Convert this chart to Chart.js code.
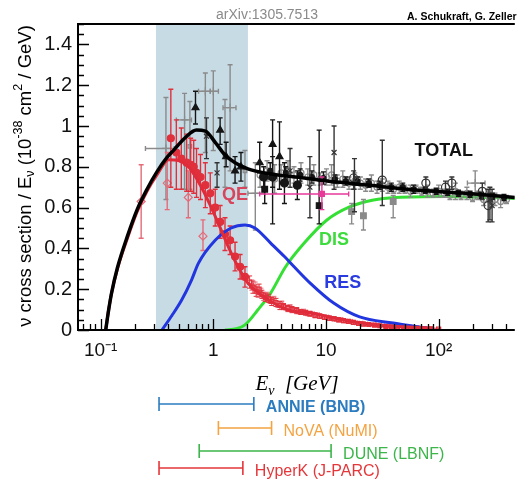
<!DOCTYPE html>
<html><head><meta charset="utf-8">
<script src="https://cdn.jsdelivr.net/npm/chart.js@4.4.0/dist/chart.umd.min.js"></script>
<style>html,body{margin:0;padding:0;background:#fff;}canvas{display:block;}</style>
</head><body>
<canvas id="c" width="520" height="479"></canvas>
<script>
// ---------- axis ticks ----------
const xTickValues = [0.1, 1, 10, 100];
const xTickLabels = ['10\u207B\u00B9', '1', '10', '10\u00B2'];
const yTickValues = [0, 0.2, 0.4, 0.6, 0.8, 1, 1.2, 1.4];
const yTickLabels = ['0', '0.2', '0.4', '0.6', '0.8', '1', '1.2', '1.4'];
const highlightRange = [0.31, 2.03];

// ---------- model curves (E in GeV, sigma/E) ----------
const totalE = [0.111,0.118,0.125,0.141,0.173,0.211,0.258,0.316,0.387,0.446,0.557,0.71,0.851,1.04,1.27,1.56,2.03,2.86,6.41,12.5,24.3,62.8,173,474];
const totalV = [0,0.10,0.18,0.305,0.46,0.59,0.69,0.775,0.845,0.882,0.94,0.98,0.975,0.92,0.858,0.82,0.79,0.77,0.745,0.725,0.71,0.686,0.67,0.65];
const qeE = [0.111,0.118,0.125,0.141,0.173,0.211,0.258,0.316,0.403,0.493,0.604,0.785,0.96,1.175,1.354,1.66,2.03,2.86,4.54,7.23,14.4,28,88.5];
const qeV = [0,0.10,0.18,0.30,0.45,0.58,0.68,0.76,0.835,0.83,0.80,0.70,0.60,0.49,0.41,0.31,0.23,0.16,0.10,0.083,0.049,0.025,0.01];
const resE = [0.35,0.428,0.524,0.641,0.739,1.04,1.44,1.91,2.34,3.23,4.28,5.24,7.24,11.7,19.9,39.5,66.8,88.5];
const resV = [0,0.07,0.147,0.245,0.328,0.44,0.50,0.515,0.50,0.426,0.36,0.309,0.23,0.132,0.064,0.034,0.015,0.005];
const disE = [1.27,1.6,1.91,2.48,3.23,4.37,6.41,10.2,16.2,26.4,42,115,474];
const disV = [0,0.006,0.025,0.098,0.181,0.309,0.426,0.539,0.603,0.637,0.65,0.655,0.645];

// ---------- QE data ----------
const qeFilledE = [0.42,0.47,0.52,0.58,0.63,0.67,0.71,0.77,0.85,0.94,1.04,1.15,1.27,1.41,1.56,1.73,1.91];
const qeFilledV = [0.94,0.87,0.84,0.82,0.81,0.80,0.77,0.75,0.71,0.67,0.60,0.53,0.47,0.44,0.36,0.31,0.26];
const qeFilledLo = [0.70,0.69,0.69,0.68,0.68,0.67,0.65,0.64,0.60,0.57,0.51,0.45,0.39,0.37,0.29,0.25,0.21];
const qeFilledHi = [1.18,1.03,0.99,0.96,0.94,0.93,0.89,0.86,0.82,0.77,0.69,0.61,0.55,0.51,0.43,0.37,0.31];
const qeOpenE = [0.229,0.39,0.60,0.81];
const qeOpenV = [0.63,0.72,0.65,0.46];
const qeOpenLo = [0.45,0.59,0.55,0.39];
const qeOpenHi = [0.81,0.87,0.78,0.54];
const qeDenseE = [2.1,2.25,2.4,2.55,2.7,2.9,3.1,3.3,3.6,3.9,4.2,4.6,5.0,5.5,6.0,6.6,7.2,8.0,8.8,9.7,10.7,11.8,13.0,14.3,15.8,17.5,19.5,21.5,24,27,30,34,38,43,49,56,64,74,86,100];
const qeDenseV = [0.235,0.21,0.19,0.20,0.175,0.16,0.155,0.14,0.135,0.12,0.115,0.105,0.10,0.095,0.088,0.085,0.08,0.072,0.068,0.062,0.058,0.055,0.05,0.046,0.042,0.037,0.032,0.029,0.027,0.024,0.021,0.018,0.016,0.014,0.012,0.010,0.009,0.007,0.006,0.005];
const qeDenseErr = [0.03,0.03,0.025,0.025,0.02,0.02,0.02,0.02,0.02,0.02,0.015,0.015,0.015,0.015,0.012,0.012,0.012,0.012,0.01,0.01,0.01,0.01,0.01,0.01,0.008,0.008,0.008,0.008,0.006,0.006,0.006,0.006,0.005,0.005,0.005,0.004,0.004,0.004,0.004,0.004];
const qeDense2E = [2.2,2.35,2.5,2.65,2.8,3.0,3.2,3.45,3.75,4.05,4.4,4.8,5.25,5.75,6.3,6.9,7.6,8.4,9.2,10.2,11.2,12.4,13.6,15,16.6,18.5,20.5,22.7,25.5,28.5,32,36,40.5,46,52,60,69,80,93];
const qeDense2V = [0.22,0.215,0.18,0.185,0.165,0.17,0.145,0.15,0.125,0.13,0.11,0.112,0.098,0.09,0.092,0.08,0.078,0.075,0.066,0.064,0.057,0.052,0.052,0.044,0.043,0.035,0.034,0.03,0.025,0.025,0.02,0.019,0.015,0.015,0.011,0.011,0.008,0.008,0.005];
const qeDense2Err = [0.025,0.02,0.02,0.02,0.02,0.015,0.015,0.015,0.015,0.012,0.012,0.012,0.01,0.01,0.01,0.01,0.01,0.008,0.008,0.008,0.008,0.008,0.006,0.006,0.006,0.006,0.006,0.005,0.005,0.005,0.004,0.004,0.004,0.004,0.004,0.003,0.003,0.003,0.003];

// ---------- inclusive (total) data ----------
const triE = [0.695,1.15,1.30,1.56,1.76,2.58,3.36,3.87];
const triV = [1.09,0.98,0.85,0.78,0.80,0.82,0.91,0.85];
const triLo = [1.01,0.91,0.80,0.72,0.73,0.77,0.70,0.69];
const triHi = [1.17,1.04,0.92,0.85,0.87,0.92,1.03,1.02];
const circE = [2.8,3.36,4.28,5.57];
const circV = [0.75,0.75,0.72,0.71];
const circLo = [0.70,0.52,0.62,0.64];
const circHi = [0.80,0.85,0.82,0.78];
const sqE = [2.86,8.7];
const sqV = [0.69,0.61];
const sqLo = [0.62,0.52];
const sqHi = [0.76,0.98];
const barE = [0.87,1.08,4.8,7.2,11.8,17.9,285,298];
const barV = [0.95,0.77,0.78,0.70,0.87,0.72,0.64,0.61];
const barLo = [0.84,0.70,0.70,0.55,0.69,0.58,0.54,0.53];
const barHi = [1.04,0.82,0.89,0.85,1.00,0.84,0.70,0.69];
const smallE = [3.2,4.4,5.9,7.5,9.5,12,15,19,24,30,38,48,60,76,95,120,150,190,240,300,380];
const smallV = [0.78,0.77,0.76,0.75,0.745,0.74,0.73,0.73,0.72,0.71,0.70,0.70,0.69,0.685,0.68,0.675,0.67,0.665,0.66,0.655,0.65];
const smallErr = [0.04,0.03,0.03,0.03,0.03,0.02,0.02,0.02,0.02,0.02,0.02,0.02,0.02,0.015,0.015,0.015,0.015,0.015,0.015,0.015,0.015];
const openE = [17.6,31.6,77,115,131,244,275];
const openV = [0.745,0.735,0.72,0.70,0.72,0.68,0.61];
const openLo = [0.69,0.61,0.69,0.67,0.69,0.64,0.53];
const openHi = [0.78,0.93,0.75,0.73,0.75,0.72,0.69];
const grayXE = [0.38,0.556,0.85,1.0,1.41,2.36,211];
const grayXV = [0.89,1.03,1.17,1.17,1.09,0.67,0.72];
const grayXLo = [0.64,0.69,0.87,0.88,0.78,0.49,0.67];
const grayXHi = [1.14,1.16,1.26,1.27,1.30,0.82,0.78];
const grayXMin = [0.25,0.47,0.74,0.94,1.22,2.03,180];
const grayXMax = [0.45,0.64,0.94,1.11,1.59,2.86,258];
const grayBarE = [0.62,1.27,1.91];
const grayBarV = [0.90,0.85,0.78];
const grayBarLo = [0.69,0.70,0.70];
const grayBarHi = [1.12,1.13,0.88];
const grayE = [2.6,3.0,3.5,4.0,4.6,5.2,6.0,6.9,7.8,8.9,10.1,11.2,12.6,14.1,16.0,18.0,20.2,22.5,25.3,28.4,31.6,35.5,39.8,44.7,50.1,56.2,63.1,70.8,79.4,89.1,100,112,126,141,158,178,200,224,251,282,316,355,400];
const grayV = [0.76,0.78,0.74,0.77,0.78,0.76,0.77,0.75,0.76,0.74,0.75,0.76,0.73,0.74,0.72,0.73,0.72,0.71,0.72,0.70,0.71,0.70,0.69,0.70,0.69,0.68,0.69,0.68,0.68,0.67,0.68,0.67,0.66,0.68,0.66,0.67,0.65,0.66,0.64,0.65,0.64,0.63,0.64];
const grayErr = [0.06,0.05,0.07,0.04,0.05,0.04,0.05,0.04,0.05,0.03,0.04,0.05,0.03,0.04,0.03,0.04,0.03,0.03,0.04,0.03,0.03,0.03,0.02,0.03,0.02,0.03,0.02,0.02,0.03,0.02,0.03,0.02,0.02,0.04,0.02,0.03,0.02,0.02,0.03,0.02,0.03,0.03,0.02];
const graySqE = [16.9,21.5,39.5];
const graySqV = [0.58,0.56,0.63];
const graySqLo = [0.52,0.49,0.55];
const graySqHi = [0.62,0.64,0.66];
const pinkE = [9.2];
const pinkV = [0.667];
const pinkLo = [0.59];
const pinkHi = [0.75];
const pinkXMin = [2.58];
const pinkXMax = [15.9];

// ---------- experiment energy ranges ----------
const expNames = ['ANNIE (BNB)', 'NoVA (NuMI)', 'DUNE (LBNF)', 'HyperK (J-PARC)'];
const expMin = [0.33, 1.11, 0.75, 0.33];
const expMax = [2.29, 3.29, 11.1, 1.83];

// ---------- helpers ----------
const pts = (E, V) => E.map((e, i) => ({x: e, y: V[i]}));
const RED = '#e0303c', REDL = '#e56b78', BLK = '#151515', GRY = '#8a8a8a', PINK = '#e8389a';
function curve(E, V, color, w, order) {
  return {data: pts(E, V), showLine: true, borderColor: color, borderWidth: w, pointRadius: 0,
    cubicInterpolationMode: 'monotone', fill: false, order};
}
function marks(E, V, o) {
  return Object.assign({data: pts(E, V), showLine: false, pointRadius: 3.5, borderWidth: 1.2}, o);
}

const datasets = [
  curve(totalE, totalV, '#000', 3.5, 1),
  curve(qeE, qeV, '#e02b3a', 3, 2),
  curve(resE, resV, '#2236e0', 3, 2),
  marks(pinkE, pinkV, {pointStyle: 'rect', backgroundColor: PINK, borderColor: PINK, errColor: PINK, yLo: pinkLo, yHi: pinkHi, xLo: pinkXMin, xHi: pinkXMax, order: 7}),
  marks(qeFilledE, qeFilledV, {pointStyle: 'circle', backgroundColor: RED, borderColor: RED, errColor: RED, yLo: qeFilledLo, yHi: qeFilledHi, order: 8}),
  marks(qeOpenE, qeOpenV, {pointStyle: 'rectRot', pointRadius: 4, backgroundColor: 'rgba(0,0,0,0)', borderColor: REDL, errColor: REDL, yLo: qeOpenLo, yHi: qeOpenHi, order: 9}),
  marks(qeDenseE, qeDenseV, {pointStyle: 'rect', pointRadius: 2.8, backgroundColor: 'rgba(0,0,0,0)', borderColor: RED, errColor: RED, errWidth: 1, err: qeDenseErr, order: 10}),
  marks(qeDense2E, qeDense2V, {pointStyle: 'crossRot', pointRadius: 3, backgroundColor: RED, borderColor: REDL, errColor: REDL, errWidth: 1, err: qeDense2Err, order: 10}),
  marks(triE, triV, {pointStyle: 'triangle', pointRadius: 4, backgroundColor: BLK, borderColor: BLK, errColor: BLK, yLo: triLo, yHi: triHi, order: 11}),
  marks(circE, circV, {pointStyle: 'circle', pointRadius: 4, backgroundColor: BLK, borderColor: BLK, errColor: BLK, yLo: circLo, yHi: circHi, order: 11}),
  marks(sqE, sqV, {pointStyle: 'rect', pointRadius: 4, backgroundColor: BLK, borderColor: BLK, errColor: BLK, yLo: sqLo, yHi: sqHi, order: 11}),
  marks(barE, barV, {pointStyle: 'crossRot', pointRadius: 3.5, backgroundColor: '#333', borderColor: '#333', errColor: '#333', yLo: barLo, yHi: barHi, order: 12}),
  marks(openE, openV, {pointStyle: 'circle', pointRadius: 4, backgroundColor: 'rgba(0,0,0,0)', borderColor: '#333', errColor: '#333', yLo: openLo, yHi: openHi, order: 12}),
  marks(smallE, smallV, {pointStyle: 'circle', pointRadius: 2.5, backgroundColor: BLK, borderColor: BLK, errColor: BLK, err: smallErr, order: 13}),
  marks(grayXE, grayXV, {pointStyle: 'cross', pointRadius: 4, backgroundColor: GRY, borderColor: GRY, errColor: GRY, yLo: grayXLo, yHi: grayXHi, xLo: grayXMin, xHi: grayXMax, order: 14}),
  marks(grayBarE, grayBarV, {pointStyle: 'rect', pointRadius: 2.5, backgroundColor: 'rgba(0,0,0,0)', borderColor: GRY, errColor: GRY, yLo: grayBarLo, yHi: grayBarHi, order: 14}),
  marks(graySqE, graySqV, {pointStyle: 'rect', pointRadius: 4, backgroundColor: GRY, borderColor: GRY, errColor: GRY, yLo: graySqLo, yHi: graySqHi, order: 14}),
  marks(grayE, grayV, {pointStyle: 'circle', pointRadius: 3, backgroundColor: 'rgba(0,0,0,0)', borderColor: GRY, errColor: GRY, err: grayErr, order: 15}),
  curve(disE, disV, '#35e035', 3, 20)
];

// ---------- plugins ----------
const errorBars = {
  id: 'errorBars',
  beforeDatasetDraw(chart, args) {
    const ds = chart.data.datasets[args.index];
    if (!ds.yLo && !ds.err && !ds.xLo) return;
    const xs = chart.scales.x, ys = chart.scales.y, ctx = chart.ctx, a = chart.chartArea;
    ctx.save();
    ctx.beginPath(); ctx.rect(a.left, a.top, a.right - a.left, a.bottom - a.top); ctx.clip();
    ctx.strokeStyle = ds.errColor; ctx.lineWidth = ds.errWidth || 1.4;
    const cap = 2.5;
    ds.data.forEach((p, i) => {
      const px = xs.getPixelForValue(p.x), py = ys.getPixelForValue(p.y);
      let lo, hi;
      if (ds.err) { lo = p.y - ds.err[i]; hi = p.y + ds.err[i]; }
      else if (ds.yLo) { lo = ds.yLo[i]; hi = ds.yHi[i]; }
      ctx.beginPath();
      if (lo !== undefined) {
        const y1 = ys.getPixelForValue(lo), y2 = ys.getPixelForValue(hi);
        ctx.moveTo(px, y1); ctx.lineTo(px, y2);
        ctx.moveTo(px - cap, y1); ctx.lineTo(px + cap, y1);
        ctx.moveTo(px - cap, y2); ctx.lineTo(px + cap, y2);
      }
      if (ds.xLo) {
        const x1 = xs.getPixelForValue(ds.xLo[i]), x2 = xs.getPixelForValue(ds.xHi[i]);
        ctx.moveTo(x1, py); ctx.lineTo(x2, py);
        ctx.moveTo(x1, py - cap); ctx.lineTo(x1, py + cap);
        ctx.moveTo(x2, py - cap); ctx.lineTo(x2, py + cap);
      }
      ctx.stroke();
    });
    ctx.restore();
  }
};

function richText(ctx, parts, x, y, align) {
  let total = 0;
  parts.forEach(p => { ctx.font = p.font; p.w = ctx.measureText(p.t).width; total += p.w; });
  let cx = align === 'center' ? x - total / 2 : x;
  parts.forEach(p => { ctx.font = p.font; ctx.fillText(p.t, cx, y + (p.dy || 0)); cx += p.w; });
}

const decor = {
  id: 'decor',
  beforeDatasetsDraw(chart) {
    const {ctx, chartArea: a, scales: {x: xs}} = chart;
    const x1 = xs.getPixelForValue(highlightRange[0]), x2 = xs.getPixelForValue(highlightRange[1]);
    ctx.save(); ctx.fillStyle = 'rgb(199,219,229)';
    ctx.fillRect(x1, a.top, x2 - x1, a.bottom - a.top);
    ctx.restore();
  },
  afterDatasetsDraw(chart) {
    const {ctx, chartArea: a, scales: {x: xs, y: ys}} = chart;
    ctx.save(); ctx.strokeStyle = '#000'; ctx.lineWidth = 1.3;
    ctx.beginPath();
    for (let d = -2; d <= 3; d++) for (let m = 1; m <= 9; m++) {
      const v = m * Math.pow(10, d);
      if (v < xs.min || v > xs.max) continue;
      const px = Math.round(xs.getPixelForValue(v)) + 0.5;
      const L = m === 1 ? 11 : 6;
      ctx.moveTo(px, a.bottom); ctx.lineTo(px, a.bottom - L);
    }
    for (let k = 0; k <= 30; k++) {
      const py = Math.round(ys.getPixelForValue(k * 0.05)) + 0.5;
      const L = (k % 4 === 0) ? 11 : 6;
      ctx.moveTo(a.left, py); ctx.lineTo(a.left + L, py);
    }
    ctx.stroke();
    ctx.lineWidth = 2;
    ctx.beginPath();
    ctx.moveTo(a.right, a.top); ctx.lineTo(a.left, a.top); ctx.lineTo(a.left, a.bottom); ctx.lineTo(a.right, a.bottom);
    ctx.stroke();
    ctx.restore();
  },
  afterDraw(chart) {
    const {ctx, scales: {x: xs, y: ys}} = chart;
    ctx.save();
    // curve labels
    ctx.textAlign = 'center'; ctx.textBaseline = 'middle';
    ctx.font = 'bold 18px "Liberation Sans", Arial, sans-serif';
    [['TOTAL', 111, 0.877, '#111'], ['QE', 1.56, 0.662, '#d6455c'], ['DIS', 11.8, 0.441, '#3ddc3d'], ['RES', 14.1, 0.23, '#2a3be0']]
      .forEach(([t, e, v, c]) => { ctx.fillStyle = c; ctx.fillText(t, xs.getPixelForValue(e), ys.getPixelForValue(v)); });
    // header texts
    ctx.textBaseline = 'middle';
    ctx.fillStyle = '#8a8a8a'; ctx.font = '14px "Liberation Sans", Arial, sans-serif';
    ctx.fillText('arXiv:1305.7513', 267, 15);
    ctx.fillStyle = '#000'; ctx.font = 'bold 10.5px "Liberation Sans", Arial, sans-serif';
    ctx.textAlign = 'left';
    ctx.fillText('A. Schukraft, G. Zeller', 407, 17);
    // x title
    ctx.textBaseline = 'alphabetic'; ctx.fillStyle = '#000';
    richText(ctx, [
      {t: 'E', font: 'italic 21px "Liberation Serif", "Times New Roman", serif'},
      {t: '\u03BD', font: 'italic 14px "Liberation Serif", "Times New Roman", serif', dy: 5},
      {t: '  [GeV]', font: 'italic 21px "Liberation Serif", "Times New Roman", serif'}
    ], 297, 390, 'center');
    // y title
    ctx.save();
    ctx.translate(26, 176); ctx.rotate(-Math.PI / 2);
    ctx.textBaseline = 'middle';
    const f = '18.5px "Liberation Sans", Arial, sans-serif', fs = '12.5px "Liberation Sans", Arial, sans-serif';
    richText(ctx, [
      {t: '\u03BD cross section / E', font: f},
      {t: '\u03BD', font: fs, dy: 5},
      {t: ' (10', font: f},
      {t: '-38', font: fs, dy: -7},
      {t: ' cm', font: f},
      {t: '2', font: fs, dy: -7},
      {t: ' / GeV)', font: f}
    ], 0, 0, 'center');
    ctx.restore();
    // experiment energy ranges
    const rowY = [404, 428, 451, 468];
    const cols = ['#2c7cc0', '#f4a341', '#3cb54a', '#e5373a'];
    expNames.forEach((n, i) => {
      const x1 = xs.getPixelForValue(expMin[i]), x2 = xs.getPixelForValue(expMax[i]), y = rowY[i];
      ctx.strokeStyle = cols[i]; ctx.lineWidth = 1.6;
      ctx.beginPath();
      ctx.moveTo(x1, y); ctx.lineTo(x2, y);
      ctx.moveTo(x1, y - 7); ctx.lineTo(x1, y + 7);
      ctx.moveTo(x2, y - 7); ctx.lineTo(x2, y + 7);
      ctx.stroke();
      ctx.fillStyle = cols[i];
      ctx.font = (i === 0 ? 'bold ' : '') + '16px "Liberation Sans", Arial, sans-serif';
      ctx.textAlign = 'left'; ctx.textBaseline = 'middle';
      ctx.fillText(n, x2 + 12, y + 4);
    });
    ctx.restore();
  }
};

Chart.defaults.font.family = '"Liberation Sans", Arial, sans-serif';
new Chart(document.getElementById('c'), {
  type: 'scatter',
  data: {datasets},
  options: {
    responsive: false, animation: false, devicePixelRatio: 1,
    layout: {padding: {top: 24, right: 0, left: 0, bottom: 0}},
    plugins: {legend: {display: false}, tooltip: {enabled: false}},
    scales: {
      x: {
        type: 'logarithmic', min: 0.063, max: 474,
        grid: {display: false, drawTicks: false}, border: {display: false},
        afterBuildTicks: s => { s.ticks = xTickValues.map(v => ({value: v})); },
        afterFit: s => { s.height = 149; },
        ticks: {autoSkip: false, maxRotation: 0, padding: 9, color: '#111', font: {size: 19},
          callback: (v, i) => xTickLabels[i]}
      },
      y: {
        min: 0, max: 1.5,
        grid: {display: false, drawTicks: false}, border: {display: false},
        afterBuildTicks: s => { s.ticks = yTickValues.map(v => ({value: v})); },
        afterFit: s => { s.width = 78; },
        ticks: {padding: 6, color: '#111', font: {size: 20}, callback: (v, i) => yTickLabels[i]}
      }
    }
  },
  plugins: [errorBars, decor]
});
</script>
</body></html>
